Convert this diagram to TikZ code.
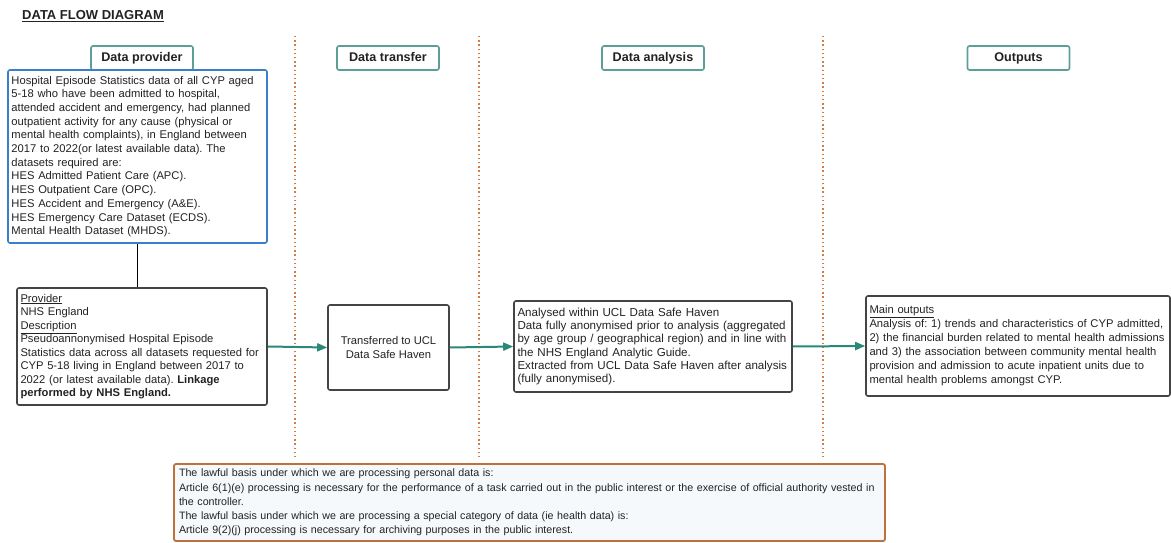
\documentclass[tikz,border=0pt]{standalone}
\usepackage{fontspec}
\setmainfont{Liberation Sans}
\usetikzlibrary{arrows.meta}
\definecolor{teal1}{HTML}{5E9E98}
\definecolor{arrowc}{HTML}{2A8878}
\definecolor{dotc}{HTML}{D07E48}
\definecolor{blue1}{HTML}{3C7EC8}
\definecolor{grayb}{HTML}{444444}
\definecolor{txt}{HTML}{222222}
\definecolor{orangeb}{HTML}{C0703A}
\definecolor{lightbg}{HTML}{F5F9FC}
\frenchspacing
\begin{document}
\begin{tikzpicture}[x=1pt,y=-1pt,
  hdr/.style={draw=teal1,line width=1.6pt,rounded corners=2pt,minimum width=102pt,minimum height=24pt,inner sep=0pt,text height=9pt,text depth=2.5pt,font=\fontsize{12.6}{14}\selectfont\bfseries,text=txt},
  body/.style={rounded corners=2pt,line width=1.6pt,align=left,inner sep=3.5pt,font=\fontsize{11.2}{13.5}\selectfont,text=txt},
  sep/.style={dotc,line width=2pt,dash pattern=on 1.4pt off 2.8pt},
  flow/.style={arrowc,line width=2pt,-{Triangle[length=10pt,width=8pt]}}]
\useasboundingbox (0,0) rectangle (1171,543);
\node[anchor=west,font=\fontsize{13}{14}\selectfont\bfseries,text=txt,inner sep=0pt] (title) at (22,16) {\underline{DATA FLOW DIAGRAM}};
% separators
\coordinate (s1a) at (295,36); \coordinate (s1b) at (295,458);
\coordinate (s2a) at (479,36); \coordinate (s2b) at (479,458);
\coordinate (s3a) at (823,36); \coordinate (s3b) at (823,458);
\draw[sep] (s1a) -- (s1b);
\draw[sep] (s2a) -- (s2b);
\draw[sep] (s3a) -- (s3b);
% headers
\node[hdr] (h1) at (142,58) {Data provider};
\node[hdr] (h2) at (388,58) {Data transfer};
\node[hdr] (h3) at (653,58) {Data analysis};
\node[hdr] (h4) at (1018.5,58) {Outputs};
% boxes
\node[body,draw=blue1,fill=white,text width=252pt,minimum height=173pt,font=\fontsize{11.2}{13.7}\selectfont] (hosp) at (137.5,156.5) {Hospital Episode Statistics data of all CYP aged\\5-18 who have been admitted to hospital,\\attended accident and emergency, had planned\\outpatient activity for any cause (physical or\\mental health complaints), in England between\\2017 to 2022(or latest available data). The\\datasets required are:\\HES Admitted Patient Care (APC).\\HES Outpatient Care (OPC).\\HES Accident and Emergency (A\&E).\\HES Emergency Care Dataset (ECDS).\\Mental Health Dataset (MHDS).};
\node[body,draw=grayb,text width=243pt,minimum height=117pt] (prov) at (142,346.5) {\underline{Provider}\\NHS England\\\underline{Description}\\Pseudoannonymised Hospital Episode\\Statistics data across all datasets requested for\\CYP 5-18 living in England between 2017 to\\2022 (or latest available data). \textbf{Linkage}\\\textbf{performed by NHS England.}};
\node[body,draw=grayb,align=center,minimum width=121pt,minimum height=85pt] (trans) at (388.5,347.5) {Transferred to UCL\\Data Safe Haven};
\node[body,draw=grayb,text width=271pt,minimum height=91pt,font=\fontsize{11.6}{13.3}\selectfont] (anal) at (653,346.5) {Analysed within UCL Data Safe Haven\\Data fully anonymised prior to analysis (aggregated\\by age group / geographical region) and in line with\\the NHS England Analytic Guide.\\Extracted from UCL Data Safe Haven after analysis\\(fully anonymised).};
\node[body,draw=grayb,text width=297pt,minimum height=100pt,font=\fontsize{11.2}{14}\selectfont] (outp) at (1018,346) {\underline{Main outputs}\\Analysis of: 1) trends and characteristics of CYP admitted,\\2) the financial burden related to mental health admissions\\and 3) the association between community mental health\\provision and admission to acute inpatient units due to\\mental health problems amongst CYP.};
\node[body,draw=orangeb,fill=lightbg,line width=1.8pt,text width=701pt,minimum height=77pt,inner sep=5pt,font=\fontsize{10.7}{14.2}\selectfont] (law) at (529.5,502.5) {The lawful basis under which we are processing personal data is:\\Article 6(1)(e) processing is necessary for the performance of a task carried out in the public interest or the exercise of official authority vested in\\the controller.\\The lawful basis under which we are processing a special category of data (ie health data) is:\\Article 9(2)(j) processing is necessary for archiving purposes in the public interest.};
% connectors
\draw[black,line width=1.8pt] (hosp.south) -- (hosp.south |- prov.north);
\draw[flow] (prov.east) -- (trans.west);
\draw[flow] (trans.east) -- (anal.west);
\draw[flow] (anal.east) -- (outp.west);
\end{tikzpicture}
\end{document}
